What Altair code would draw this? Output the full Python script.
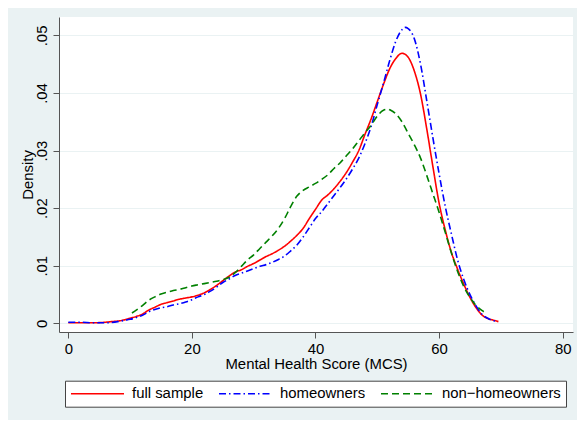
import altair as alt
import pandas as pd

# ---- data (kernel density estimates) ----
series_names = ["full sample", "homeowners", "non\u2212homeowners"]

x_full = [0, 2, 4, 6, 7, 8, 9, 10, 11, 12, 13, 14, 15, 16, 17, 18, 19, 20,
          21, 22, 23, 24, 25, 26, 27, 28, 29, 30, 31, 32, 33, 34, 35, 36, 37,
          38, 39, 40, 41, 42, 43, 44, 45, 46, 47, 48, 49, 50, 51, 52, 53, 54,
          55, 56, 57, 58, 59, 60, 61, 62, 63, 64, 65, 66, 67, 68, 69, 69.6]
y_full = [0.0001, 0.0001, 0.0001, 0.0002, 0.0003, 0.0004, 0.0006, 0.0009,
          0.0012, 0.0016, 0.0023, 0.0028, 0.0033, 0.0036, 0.0039, 0.0042,
          0.0044, 0.0046, 0.0049, 0.0053, 0.0059, 0.0066, 0.0074, 0.0082,
          0.0089, 0.0093, 0.0099, 0.0104, 0.0110, 0.0116, 0.0121, 0.0127,
          0.0134, 0.0143, 0.0153, 0.0165, 0.0182, 0.0198, 0.0214, 0.0223,
          0.0234, 0.0247, 0.0262, 0.0280, 0.0300, 0.0328, 0.0355, 0.0385,
          0.0415, 0.0442, 0.0460, 0.0469, 0.0462, 0.0438, 0.0398, 0.0338,
          0.0272, 0.0209, 0.0162, 0.0123, 0.0094, 0.0068, 0.0045, 0.0027,
          0.0014, 0.0008, 0.0005, 0.0003]

x_home = [0, 2, 4, 6, 8, 9, 10, 11, 12, 13, 14, 15, 16, 17, 18, 19, 20, 21,
          22, 23, 24, 25, 26, 27, 28, 29, 30, 31, 32, 33, 34, 35, 36, 37, 38,
          39, 40, 41, 42, 43, 44, 45, 46, 47, 48, 49, 50, 51, 52, 53, 54, 54.5,
          55, 56, 57, 58, 59, 60, 61, 62, 63, 64, 65, 66, 67, 68, 69, 69.3]
y_home = [0.0002, 0.0002, 0.0001, 0.0001, 0.0003, 0.0005, 0.0007, 0.0010,
          0.0014, 0.0020, 0.0024, 0.0027, 0.0029, 0.0032, 0.0034, 0.0037,
          0.0041, 0.0046, 0.0050, 0.0056, 0.0063, 0.0071, 0.0077, 0.0083,
          0.0087, 0.0091, 0.0095, 0.0099, 0.0102, 0.0106, 0.0111, 0.0117,
          0.0126, 0.0136, 0.0150, 0.0166, 0.0182, 0.0194, 0.0208, 0.0222,
          0.0236, 0.0251, 0.0268, 0.0287, 0.0312, 0.0342, 0.0380, 0.0417,
          0.0456, 0.0490, 0.0510, 0.0514, 0.0512, 0.0494, 0.0450, 0.0387,
          0.0322, 0.0260, 0.0203, 0.0155, 0.0110, 0.0076, 0.0050, 0.0030,
          0.0015, 0.0008, 0.0004, 0.0003]

x_non = [10.3, 11, 12, 13, 14, 15, 16, 17, 18, 19, 20, 21, 22, 23, 24, 25,
         26, 27, 28, 29, 30, 31, 32, 33, 34, 35, 36, 37, 38, 39, 40, 41, 42,
         43, 44, 45, 46, 47, 48, 49, 50, 51, 51.8, 52, 53, 54, 55, 56, 57,
         58, 59, 60, 61, 62, 63, 64, 65, 66, 67, 67.7]
y_non = [0.0018, 0.0023, 0.0031, 0.0040, 0.0046, 0.0051, 0.0054, 0.0057,
         0.0059, 0.0062, 0.0065, 0.0067, 0.0069, 0.0071, 0.0073, 0.0076,
         0.0080, 0.0088, 0.0099, 0.0110, 0.0119, 0.0130, 0.0141, 0.0152,
         0.0165, 0.0182, 0.0203, 0.0221, 0.0231, 0.0237, 0.0243, 0.0250,
         0.0258, 0.0269, 0.0279, 0.0291, 0.0303, 0.0317, 0.0331, 0.0344,
         0.0360, 0.0370, 0.0372, 0.0371, 0.0364, 0.0350, 0.0330, 0.0310,
         0.0287, 0.0257, 0.0225, 0.0193, 0.0158, 0.0122, 0.0090, 0.0064,
         0.0045, 0.0031, 0.0022, 0.0017]

x_ticks = [0, 20, 40, 60, 80]
y_ticks = [0, 0.01, 0.02, 0.03, 0.04, 0.05]

line_colors = ["#FF0000", "#0000FF", "#008000"]
line_dashes = [[1, 0], [7, 3, 1.5, 3], [7, 4]]

frames = []
for name, xs, ys in zip(series_names, [x_full, x_home, x_non], [y_full, y_home, y_non]):
    frames.append(pd.DataFrame({"mcs": xs, "density": ys, "series": name}))
df = pd.concat(frames, ignore_index=True)

FONT = "Liberation Sans"
FS = 14.9
TXT = "#000000"

chart = alt.Chart(df).mark_line(strokeWidth=1.6, interpolate="monotone", clip=True).encode(
    x=alt.X("mcs:Q",
            scale=alt.Scale(domain=[-1.505, 81.67], nice=False, zero=False),
            axis=alt.Axis(values=x_ticks, title="Mental Health Score (MCS)",
                          grid=False, tickSize=6, labelPadding=3.5,
                          labelFlush=False, labelOverlap=False,
                          titleY=36.3, titleBaseline="alphabetic")),
    y=alt.Y("density:Q",
            scale=alt.Scale(domain=[-0.0015, 0.0532], nice=False, zero=False),
            axis=alt.Axis(values=y_ticks, title="Density", grid=True,
                          gridColor="#EAF2F3", gridWidth=1.2,
                          tickSize=6, labelPadding=4, labelAngle=270,
                          labelAlign="center", labelBaseline="bottom",
                          labelFlush=False, labelOverlap=False,
                          labelExpr="datum.value == 0 ? '0' : slice(format(datum.value, '.2f'), 1)",
                          titleAngle=270, titleAlign="center",
                          titleBaseline="bottom", titleX=-23.7, titleY=157.5)),
    color=alt.Color("series:N",
                    scale=alt.Scale(domain=series_names, range=line_colors),
                    legend=alt.Legend(title=None, orient="none", legendX=6,
                                      legendY=363.7, direction="horizontal",
                                      symbolType="stroke", symbolSize=2809,
                                      symbolStrokeWidth=1.5, clipHeight=16,
                                      labelOffset=7, columnPadding=14,
                                      padding=5, fillColor="white",
                                      strokeColor="#444444",
                                      labelFontSize=FS, labelFont=FONT,
                                      labelColor=TXT)),
    strokeDash=alt.StrokeDash("series:N",
                              scale=alt.Scale(domain=series_names, range=line_dashes),
                              legend=None),
).properties(
    width=514,
    height=315,
    autosize=alt.AutoSizeParams(type="none"),
    padding={"left": 51, "top": 9, "right": 4, "bottom": 88},
    background="#EAF2F3",
).configure_view(
    fill="white", stroke=None
).configure_axis(
    domainColor="#555555", tickColor="#555555", domainWidth=1, tickWidth=1,
    labelFont=FONT, labelFontSize=FS, labelColor=TXT,
    titleFont=FONT, titleFontSize=FS, titleColor=TXT, titleFontWeight="normal",
)

chart.save("out.html", embed_options={"renderer": "svg", "actions": False})
